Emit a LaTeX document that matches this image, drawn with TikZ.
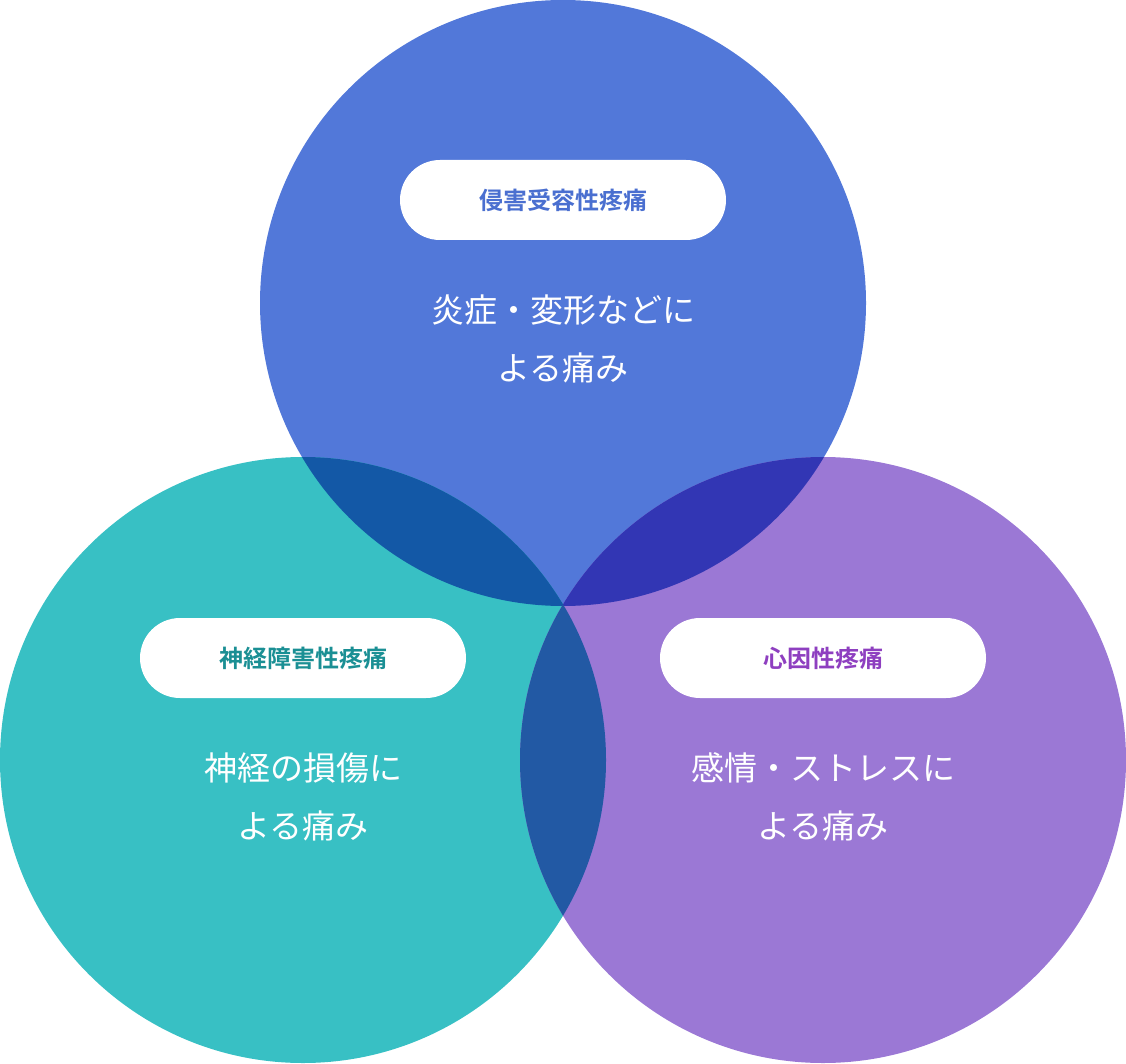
\documentclass[tikz,border=0pt]{standalone}
\usepackage{fontspec}
\setmainfont{Noto Sans CJK JP}[BoldFont={Noto Sans CJK JP Bold}]
\definecolor{topblue}{HTML}{5278D9}
\definecolor{teal}{HTML}{38C0C4}
\definecolor{purple}{HTML}{9B78D5}
\definecolor{tealdark}{HTML}{1A8F94}
\definecolor{bluedark}{HTML}{4A6FD0}
\definecolor{purpledark}{HTML}{8E3FC0}
\definecolor{ovTL}{HTML}{1358A6}
\definecolor{ovTR}{HTML}{3236B4}
\definecolor{ovLR}{HTML}{2259A4}
\tikzset{
	pill/.style={fill=white, rounded corners=40pt, minimum width=326pt, minimum height=80pt, font=\bfseries\fontsize{24}{28}\selectfont},
	body/.style={text=white, align=center, font=\fontsize{33}{58}\selectfont}
}
\begin{document}
\begin{tikzpicture}[x=1pt,y=-1pt]
	\useasboundingbox (0,0) rectangle (1126,1064);
	% circles
	\fill[topblue] (563,303) circle (303);
	\fill[teal] (303,760) circle (303);
	\fill[purple] (823,760) circle (303);
	% overlaps
	\begin{scope}
		\clip (563,303) circle (303);
		\fill[ovTL] (303,760) circle (303);
		\fill[ovTR] (823,760) circle (303);
	\end{scope}
	\begin{scope}
		\clip (303,760) circle (303);
		\fill[ovLR] (823,760) circle (303);
	\end{scope}
	% labels
	\node[pill, text=bluedark] (nocilabel) at (563,200) {侵害受容性疼痛};
	\node[body] (nocitext) at (563,339) {炎症・変形などに\\よる痛み};
	\node[pill, text=tealdark] (neurolabel) at (303,658) {神経障害性疼痛};
	\node[body] (neurotext) at (303,797) {神経の損傷に\\よる痛み};
	\node[pill, text=purpledark] (psycholabel) at (823,658) {心因性疼痛};
	\node[body] (psychotext) at (823,797) {感情・ストレスに\\よる痛み};
\end{tikzpicture}
\end{document}
